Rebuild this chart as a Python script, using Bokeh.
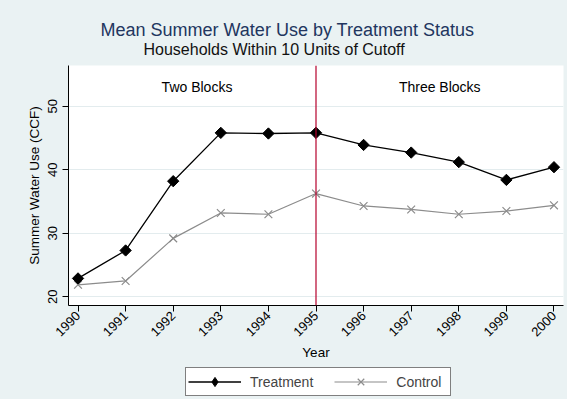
import math
from bokeh.plotting import figure
from bokeh.layouts import column
from bokeh.models import (Span, Title, Legend, LegendItem, ColumnDataSource,
                          FixedTicker, Range1d)
from bokeh.core.properties import value
from bokeh.embed import file_html
from bokeh.resources import INLINE

years = [1990, 1991, 1992, 1993, 1994, 1995, 1996, 1997, 1998, 1999, 2000]
treatment = [22.9, 27.3, 38.2, 45.8, 45.7, 45.8, 43.9, 42.7, 41.2, 38.4, 40.4]
control = [21.9, 22.5, 29.2, 33.2, 33.0, 36.25, 34.3, 33.75, 33.0, 33.5, 34.4]
y_ticks = [20, 30, 40, 50]
cutoff_year = 1995
region_labels = ["Two Blocks", "Three Blocks"]
region_x = [1992.5, 1997.6]
region_y = [53.0, 53.0]
series_names = ["Treatment", "Control"]

FONT = "Liberation Sans"
BG = "#EAF2F3"
T_COLOR = "black"
C_COLOR = "#8C8C8C"

p = figure(width=567, height=363, output_backend="svg", toolbar_location=None,
           x_range=Range1d(1989.8, 2000.2), y_range=Range1d(18.64, 56.4),
           min_border_left=68, min_border_right=4, min_border_top=65,
           min_border_bottom=57)
p.background_fill_color = "white"
p.border_fill_color = BG
p.outline_line_color = None

# titles
sub = Title(text="Households Within 10 Units of Cutoff", align="left", offset=75,
            standoff=16, text_font=FONT, text_font_size="16px",
            text_font_style="normal", text_color="#111111")
p.add_layout(sub, "above")
main = Title(text="Mean Summer Water Use by Treatment Status", align="left", offset=32,
             standoff=-19, text_font=FONT, text_font_size="18px",
             text_font_style="normal", text_color="#22365F")
p.add_layout(main, "above")
p.title.visible = False

# axes
p.xaxis.ticker = FixedTicker(ticks=years)
p.yaxis.ticker = FixedTicker(ticks=y_ticks)
p.xaxis.major_label_orientation = math.pi / 4
p.yaxis.major_label_orientation = "vertical"
for ax in (p.xaxis, p.yaxis):
    ax.axis_line_color = "black"
    ax.major_tick_line_color = "black"
    ax.major_tick_out = 6
    ax.major_tick_in = 0
    ax.minor_tick_line_color = None
    ax.major_label_text_font = FONT
    ax.major_label_text_font_size = "13px"
    ax.major_label_text_color = "black"
    ax.axis_label_text_font = FONT
    ax.axis_label_text_font_size = "13.5px"
    ax.axis_label_text_font_style = "normal"
    ax.axis_label_text_color = "black"
p.xaxis.axis_label = "Year"
p.yaxis.axis_label = "Summer Water Use (CCF)"
p.xaxis.major_label_standoff = 2
p.yaxis.major_label_standoff = 5
p.xaxis.axis_label_standoff = 2
p.yaxis.axis_label_standoff = 4

p.xgrid.grid_line_color = None
p.ygrid.grid_line_color = "#E3ECEE"
p.ygrid.grid_line_width = 1

src = ColumnDataSource(dict(year=years, treatment=treatment, control=control))

p.line("year", "control", source=src, line_color=C_COLOR, line_width=1.2)
p.scatter("year", "control", source=src, marker="x", size=11,
          line_color=C_COLOR, line_width=1.2)
p.line("year", "treatment", source=src, line_color=T_COLOR, line_width=1.3)
p.scatter("year", "treatment", source=src, marker="square", angle=math.pi / 4,
          size=8, fill_color=T_COLOR, line_color=T_COLOR)

vline = Span(location=cutoff_year, dimension="height", line_color="#B5002C",
             line_width=1.2)
p.add_layout(vline)

p.text(x=region_x, y=region_y, text=region_labels, text_font=value(FONT),
       text_font_size="14px", text_align="center", text_baseline="middle",
       text_color="black")

# legend strip: separate figure; its glyphs use the same data, out of view
lg = figure(width=567, height=36, output_backend="svg", toolbar_location=None,
            x_axis_type=None, y_axis_type=None, x_range=Range1d(0, 1),
            y_range=Range1d(0, 1), min_border=0)
lg.background_fill_color = BG
lg.border_fill_color = BG
lg.outline_line_color = None
lg.xgrid.visible = False
lg.ygrid.visible = False
ltl = lg.line("year", "treatment", source=src, line_color=T_COLOR, line_width=1.3)
lts = lg.scatter("year", "treatment", source=src, marker="diamond", size=14,
                 fill_color=T_COLOR, line_color=T_COLOR)
lcl = lg.line("year", "control", source=src, line_color=C_COLOR, line_width=1.2)
lcs = lg.scatter("year", "control", source=src, marker="x", size=11,
                 line_color=C_COLOR, line_width=1.2)
legend = Legend(items=[LegendItem(label=series_names[0], renderers=[ltl, lts]),
                       LegendItem(label=series_names[1], renderers=[lcl, lcs])],
                orientation="horizontal", location=(117, 3),
                border_line_color="black", border_line_width=1,
                background_fill_color="white", background_fill_alpha=1,
                glyph_width=53, glyph_height=23, label_height=19, label_width=52,
                label_standoff=9, spacing=21, padding=2, margin=0,
                label_text_font=FONT, label_text_font_size="14px")
lg.add_layout(legend, "center")

layout = column(p, lg, spacing=0, styles={"background-color": BG})
open("out.html", "w").write(file_html(layout, INLINE))
